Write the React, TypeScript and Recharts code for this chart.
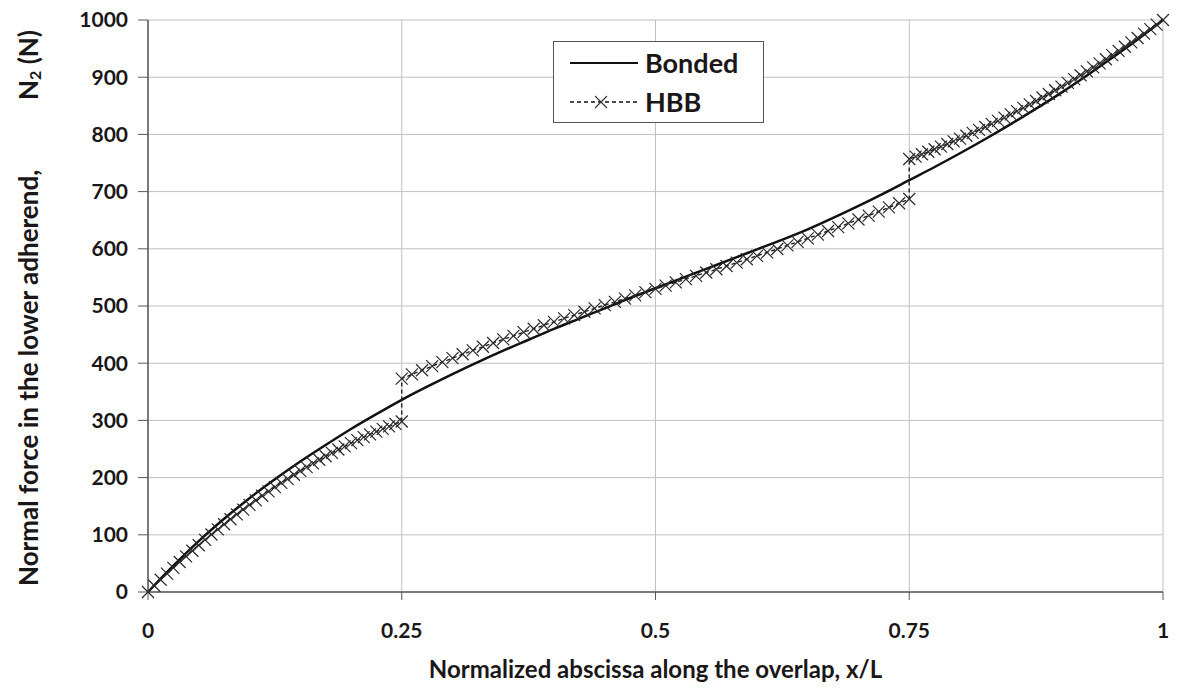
import { LineChart, Line, XAxis, YAxis, CartesianGrid } from 'recharts';

const FONT = 'Lato, "Open Sans", sans-serif';
const INK = '#1a1718';
const AXIS = '#595959';
const GRID = '#c0c0c0';

const X_TICKS = [0, 0.25, 0.5, 0.75, 1];
const Y_TICKS = [0, 100, 200, 300, 400, 500, 600, 700, 800, 900, 1000];

// Bonded solution
const BONDED_X = [
  0, 0.025, 0.05, 0.075, 0.1, 0.125, 0.15, 0.175, 0.2, 0.225, 0.25, 0.275, 0.3, 0.325,
  0.35, 0.375, 0.4, 0.425, 0.45, 0.475, 0.5, 0.525, 0.55, 0.575, 0.6, 0.625, 0.65,
  0.675, 0.7, 0.725, 0.75, 0.775, 0.8, 0.825, 0.85, 0.875, 0.9, 0.925, 0.95, 0.975, 1,
];
const BONDED_Y = [
  0, 46, 89, 128, 164, 197, 228, 257, 285, 311, 336, 359, 381, 402, 422, 441, 460, 478,
  496, 514, 531, 548, 565, 582, 599, 616, 634, 654, 675, 697, 720, 743, 767, 792, 818,
  845, 873, 903, 934, 966, 1000,
];

// HBB, first quarter
const HBB_X1 = [
  0, 0.00625, 0.0125, 0.01875, 0.025, 0.03125, 0.0375, 0.04375, 0.05, 0.05625, 0.0625,
  0.06875, 0.075, 0.08125, 0.0875, 0.09375, 0.1, 0.10625, 0.1125, 0.11875, 0.125,
  0.13125, 0.1375, 0.14375, 0.15, 0.15625, 0.1625, 0.16875, 0.175, 0.18125, 0.1875,
  0.19375, 0.2, 0.20625, 0.2125, 0.21875, 0.225, 0.23125, 0.2375, 0.24375, 0.25,
];
const HBB_Y1 = [
  0, 10.9, 21.5, 32.0, 42.3, 52.5, 62.4, 72.2, 81.8, 91.2, 100.5, 109.5, 118.4, 127.2,
  135.7, 144.1, 152.3, 160.3, 168.2, 175.9, 183.4, 190.7, 197.9, 204.9, 211.7, 218.4,
  224.8, 231.2, 237.3, 243.3, 249.1, 254.7, 260.2, 265.5, 270.7, 275.6, 280.4, 285.1,
  289.6, 293.9, 298.0,
];

// HBB, middle half
const HBB_X2 = [
  0.25, 0.26, 0.27, 0.28, 0.29, 0.3, 0.31, 0.32, 0.33, 0.34, 0.35, 0.36, 0.37, 0.38,
  0.39, 0.4, 0.41, 0.42, 0.43, 0.44, 0.45, 0.46, 0.47, 0.48, 0.49, 0.5, 0.51, 0.52,
  0.53, 0.54, 0.55, 0.56, 0.57, 0.58, 0.59, 0.6, 0.61, 0.62, 0.63, 0.64, 0.65, 0.66,
  0.67, 0.68, 0.69, 0.7, 0.71, 0.72, 0.73, 0.74, 0.75,
];
const HBB_Y2 = [
  373, 380.4, 387.7, 394.9, 401.9, 408.8, 415.6, 422.3, 428.8, 435.3, 441.7, 447.9,
  454.2, 460.3, 466.3, 472.3, 478.3, 484.1, 490.0, 495.8, 501.5, 507.3, 513.0, 518.7,
  524.3, 530, 535.7, 541.4, 547.0, 552.7, 558.5, 564.2, 570.0, 575.9, 581.7, 587.7,
  593.7, 599.7, 605.9, 612.1, 618.3, 624.7, 631.2, 637.8, 644.4, 651.2, 658.1, 665.1,
  672.3, 679.6, 687.0,
];

// HBB, last quarter
const HBB_X3 = [
  0.75, 0.75625, 0.7625, 0.76875, 0.775, 0.78125, 0.7875, 0.79375, 0.8, 0.80625, 0.8125,
  0.81875, 0.825, 0.83125, 0.8375, 0.84375, 0.85, 0.85625, 0.8625, 0.86875, 0.875,
  0.88125, 0.8875, 0.89375, 0.9, 0.90625, 0.9125, 0.91875, 0.925, 0.93125, 0.9375,
  0.94375, 0.95, 0.95625, 0.9625, 0.96875, 0.975, 0.98125, 0.9875, 0.99375, 1,
];
const HBB_Y3 = [
  757, 761.1, 765.3, 769.6, 774.1, 778.6, 783.2, 787.9, 792.7, 797.6, 802.7, 807.8,
  813.0, 818.3, 823.7, 829.3, 834.9, 840.6, 846.4, 852.4, 858.4, 864.5, 870.7, 877.1,
  883.5, 890.0, 896.6, 903.4, 910.2, 917.1, 924.2, 931.3, 938.5, 945.9, 953.3, 960.8,
  968.5, 976.2, 984.0, 992.0, 1000,
];

const bondedData = BONDED_X.map((x, i) => ({ x, y: BONDED_Y[i] }));
const hbbData = [
  ...HBB_X1.map((x, i) => ({ x, y: HBB_Y1[i] })),
  ...HBB_X2.map((x, i) => ({ x, y: HBB_Y2[i] })),
  ...HBB_X3.map((x, i) => ({ x, y: HBB_Y3[i] })),
];

function XMark(props: any) {
  const { cx, cy, index } = props;
  const key = `hbb-${index}`;
  if (cx == null || cy == null) return <g key={key} />;
  const r = 6;
  return (
    <path
      key={key}
      d={`M${cx - r},${cy - r}L${cx + r},${cy + r}M${cx - r},${cy + r}L${cx + r},${cy - r}`}
      stroke="#2a2a2a"
      strokeWidth={1.2}
      fill="none"
    />
  );
}

function YTitle() {
  const common = {
    fontFamily: FONT,
    fontWeight: 700,
    fontSize: 26,
    fill: INK,
    dominantBaseline: 'central' as const,
  };
  return (
    <g>
      <text transform="translate(28,586) rotate(-90)" textAnchor="start" {...common}>
        Normal force in the lower adherend,
      </text>
      <text transform="translate(28,30) rotate(-90)" textAnchor="end" {...common}>
        N<tspan dy={6} fontSize={16}>2</tspan>
        <tspan dy={-6}> (N)</tspan>
      </text>
    </g>
  );
}

function XTitle({ viewBox }: any) {
  const cx = viewBox.x + viewBox.width / 2;
  return (
    <text
      x={cx}
      y={668}
      textAnchor="middle"
      dominantBaseline="central"
      fontFamily={FONT}
      fontWeight={700}
      fontSize={24}
      fill={INK}
    >
      Normalized abscissa along the overlap, x/L
    </text>
  );
}

function LegendBox() {
  return (
    <div
      style={{
        position: 'absolute',
        left: 553,
        top: 41,
        width: 209,
        height: 80,
        border: '1px solid #555',
        background: '#fff',
        fontFamily: FONT,
        fontWeight: 700,
        fontSize: 27,
        color: INK,
      }}
    >
      <svg width={90} height={80} style={{ position: 'absolute', left: 0, top: 0 }}>
        <line x1={16} y1={21} x2={84} y2={21} stroke="#111" strokeWidth={2} />
        <line x1={16} y1={60} x2={84} y2={60} stroke="#111" strokeWidth={1.3} strokeDasharray="4 3" />
        <path d="M41,54L53,66M41,66L53,54" stroke="#333" strokeWidth={1.1} />
      </svg>
      <div style={{ position: 'absolute', left: 91, top: 4, lineHeight: '34px' }}>Bonded</div>
      <div style={{ position: 'absolute', left: 91, top: 43, lineHeight: '34px' }}>HBB</div>
    </div>
  );
}

export default function App() {
  return (
    <div style={{ position: 'absolute', left: 0, top: 0, width: 1179, height: 694, background: '#fff' }}>
      <LineChart width={1179} height={694} margin={{ top: 20, right: 16, bottom: 0, left: 0 }}>
        <CartesianGrid stroke={GRID} strokeWidth={1} />
        <XAxis
          dataKey="x"
          type="number"
          domain={[0, 1]}
          ticks={X_TICKS}
          height={102}
          allowDuplicatedCategory={false}
          axisLine={{ stroke: AXIS, strokeWidth: 1.5 }}
          tickLine={{ stroke: AXIS }}
          tickSize={8}
          tickMargin={23}
          tick={{ fontFamily: FONT, fontWeight: 700, fontSize: 21, fill: INK }}
          label={<XTitle />}
        />
        <YAxis
          dataKey="y"
          type="number"
          domain={[0, 1000]}
          ticks={Y_TICKS}
          width={148}
          axisLine={{ stroke: AXIS, strokeWidth: 1.5 }}
          tickLine={{ stroke: AXIS }}
          tickSize={10}
          tickMargin={10}
          tick={{ fontFamily: FONT, fontWeight: 700, fontSize: 21, fill: INK }}
          label={<YTitle />}
        />
        <Line
          data={bondedData}
          dataKey="y"
          name="Bonded"
          type="monotone"
          stroke="#111"
          strokeWidth={2.5}
          dot={false}
          isAnimationActive={false}
        />
        <Line
          data={hbbData}
          dataKey="y"
          name="HBB"
          type="linear"
          stroke="#222"
          strokeWidth={1.4}
          strokeDasharray="4 3"
          dot={(p: any) => <XMark {...p} />}
          isAnimationActive={false}
        />
      </LineChart>
      <LegendBox />
    </div>
  );
}
